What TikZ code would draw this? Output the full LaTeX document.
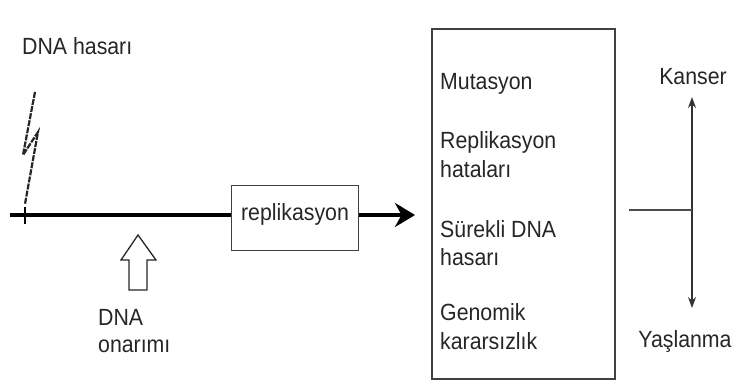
\documentclass[tikz,border=0pt]{standalone}
\usepackage{fontspec}
\setmainfont{Liberation Sans}
\usetikzlibrary{arrows.meta}

\tikzset{
  >={Stealth},                 % default arrow tip
  txt/.style={anchor=base west, inner sep=0pt, text=black!85,
              font=\fontsize{21.3}{25}\selectfont, yscale=1.1, transform shape},
  framebox/.style={draw=black!75, line width=1.3pt, inner sep=0pt}
}

\begin{document}
\begin{tikzpicture}[x=1pt, y=-1pt]
\useasboundingbox (0,0) rectangle (738,385);

%==================== left: damage and replication ====================

% DNA hasari
\node[txt] (hasar) at (22,55) {DNA hasarı};

% lightning
\draw[dashed, line width=2.2pt, dash pattern=on 6pt off 1.2pt, black!85]
    (35,92) -- (23,155) -- (38,132) -- (25,204);

% main strand
\coordinate (start) at (10,215);
\coordinate (hit) at (25,215);
\node[framebox, minimum width=127pt, minimum height=65pt] (repl) at (295,218) {};
\node[txt, anchor=base] (repltxt) at ([yshift=-2pt]repl.center) {replikasyon};
\draw[line width=4.5pt] (start) -- (start -| repl.west);
\draw[line width=2.5pt] ([yshift=-9pt]hit) -- ([yshift=8pt]hit);

% arrow to result box
\coordinate (tip) at (415,215);
\draw[->, line width=4.5pt, >={Stealth[length=20pt,width=24pt]}]
    (repl.east |- start) -- (tip);

% DNA onarimi: hollow up arrow
\draw[line width=1.3pt, black!85]
    (129,290) -- (129,260) -- (121,260) -- (138,235)
    -- (156,260) -- (147,260) -- (147,290) -- cycle;
\node[txt] (onar1) at (98,325) {DNA};
\node[txt] (onar2) at (98,352) {onarımı};

%==================== right: consequences ====================

\node[framebox, minimum width=183pt, minimum height=350pt] (res) at (523.5,204) {};
\node[txt] (mut) at (440,90) {Mutasyon};
\node[txt] (rep1) at (440,148) {Replikasyon};
\node[txt] (rep2) at (440,177) {hataları};
\node[txt] (sur1) at (440,237) {Sürekli DNA};
\node[txt] (sur2) at (440,265) {hasarı};
\node[txt] (gen1) at (440,320) {Genomik};
\node[txt] (gen2) at (440,349) {kararsızlık};

% Kanser / Yaslanma
\node[txt, anchor=base] (kanser) at (693,85) {Kanser};
\node[txt, anchor=base] (yasl) at (685,347) {Yaşlanma};
\coordinate (up) at (692,97);
\coordinate (down) at (692,308);
\coordinate (mid) at (692,210);
\coordinate (from) at (629,210);
\draw[<->, line width=1.3pt, black!80, >={Stealth[length=11pt,width=8pt]}]
    (up) -- (down);
\draw[line width=1.3pt, black!70] (from) -- (mid);

\end{tikzpicture}
\end{document}
